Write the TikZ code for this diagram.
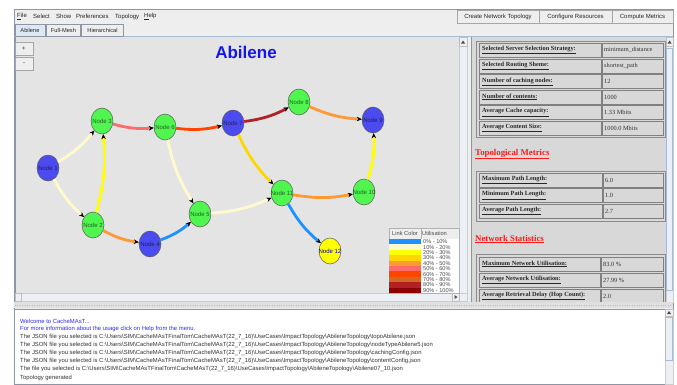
\documentclass[tikz,border=0pt]{standalone}
\usepackage{fontspec}
\setmainfont{Liberation Serif}
\setsansfont{Liberation Sans}
\usetikzlibrary{arrows.meta,shapes.geometric}

\definecolor{winbg}{RGB}{238,238,238}
\definecolor{graphbg}{RGB}{228,228,228}
\definecolor{panelbg}{RGB}{216,216,216}
\definecolor{framegray}{RGB}{140,150,165}
\definecolor{tabline}{RGB}{165,188,212}
\definecolor{tabsel}{RGB}{222,232,242}
\definecolor{scrollbg}{RGB}{236,239,243}
\definecolor{nodegreen}{RGB}{80,245,80}
\definecolor{nodeblue}{RGB}{75,75,240}
\definecolor{nodeyellow}{RGB}{255,255,0}
\definecolor{titleblue}{RGB}{20,20,240}
\definecolor{msgblue}{RGB}{45,45,240}
\definecolor{metricred}{RGB}{255,25,25}
\definecolor{util0}{RGB}{30,144,255}
\definecolor{util1}{RGB}{255,250,205}
\definecolor{util2}{RGB}{255,255,0}
\definecolor{util3}{RGB}{255,215,0}
\definecolor{util4}{RGB}{255,153,51}
\definecolor{util5}{RGB}{255,106,106}
\definecolor{util6}{RGB}{255,69,0}
\definecolor{util7}{RGB}{210,105,30}
\definecolor{util8}{RGB}{178,34,34}
\definecolor{util9}{RGB}{139,0,0}

\newcommand{\nodetxt}[1]{\makebox[0pt]{#1}}
\newcommand{\bsl}{\textbackslash}
\newcommand{\cmpath}{C:\bsl Users\bsl SIM\bsl CacheMAsTFinalTom\bsl CacheMAsT(22\_7\_16)\bsl UseCases\bsl ImpactTopology\bsl AbileneTopology\bsl}

\begin{document}
\begin{tikzpicture}[x=1pt, y=-1pt,
    netnode/.style={ellipse, draw=black!65, line width=0.5pt, minimum width=22pt, minimum height=26pt, inner sep=0pt, font=\sffamily\fontsize{6}{6}\selectfont, text opacity=0.6},
    lnk/.style={line width=2.8pt, bend right=10, -{Stealth[length=5pt, width=4.5pt, color=black, line width=0.4pt]}},
    menutxt/.style={anchor=west, inner sep=0pt, font=\sffamily\fontsize{6}{7}\selectfont, text=black!85},
    btn/.style={draw=black!35, fill=winbg, minimum height=12.5pt, inner sep=0pt, font=\sffamily\fontsize{6}{7}\selectfont, text=black!85},
    tabbox/.style={draw=framegray, fill=winbg, minimum height=12pt, inner sep=0pt, font=\sffamily\fontsize{5.7}{7}\selectfont, text=black!85},
    cellbox/.style={draw=black!50, line width=1pt},
    lbl/.style={anchor=west, inner sep=0pt, font=\bfseries\fontsize{6.3}{7}\selectfont, text=black!85},
    val/.style={anchor=west, inner sep=0pt, font=\fontsize{6.3}{7}\selectfont, text=black!80},
    heading/.style={anchor=west, inner sep=0pt, font=\bfseries\fontsize{8.8}{9}\selectfont, text=metricred},
    legtxt/.style={anchor=west, inner sep=0pt, font=\sffamily\fontsize{5.6}{5}\selectfont, text=black!70},
    logtxt/.style={anchor=west, inner sep=0pt, font=\sffamily\fontsize{5.9}{6}\selectfont, text=black!80},
    scrolltrack/.style={fill=scrollbg, draw=black!20}
  ]
  \useasboundingbox (0,0) rectangle (677,384);
  \fill[white] (0,0) rectangle (677,384);

  % ウィンドウ
  \fill[winbg] (14,9) rectangle (673,384);
  \draw[framegray] (14,9) rectangle (673,384);

  % メニューバー
  \node[menutxt] (mfile) at (17,16.5) {\underline{F}ile};
  \node[menutxt] (msel) at (33,16.5) {Select};
  \node[menutxt] (mshow) at (56,16.5) {Show};
  \node[menutxt] (mpref) at (76,16.5) {Preferences};
  \node[menutxt] (mtopo) at (115,16.5) {Topology};
  \node[menutxt] (mhelp) at (144,16.5) {\underline{H}elp};
  \node[btn, minimum width=82pt] (bcreate) at (498,16.5) {Create Network Topology};
  \node[btn, minimum width=73pt] (bconf) at (575.5,16.5) {Configure Resources};
  \node[btn, minimum width=61pt] (bcomp) at (642.5,16.5) {Compute Metrics};

  % タブ
  \draw[tabline] (14,36) -- (673,36);
  \node[tabbox, fill=tabsel, minimum width=30pt] (tabil) at (30,30) {Abilene};
  \node[tabbox, minimum width=34pt] (tfull) at (63.5,30) {Full-Mesh};
  \node[tabbox, minimum width=42pt] (thier) at (102.5,30) {Hierarchical};

  % グラフのパネル
  \fill[graphbg] (15,37) rectangle (459,293);
  \draw[framegray, line width=1pt] (15,37) -- (15,301);
  \fill[scrolltrack] (459,37) rectangle (467,293);
  \draw[black!25] (459,37) rectangle (467,46);
  \fill[black!70] (461,43.5) -- (465,43.5) -- (463,40.5) -- cycle;
  \fill[scrolltrack] (15,293) rectangle (467,301);
  \draw[black!25] (15,293) rectangle (21,301);
  \draw[black!25] (452,293) rectangle (459,301);
  \fill[black!70] (454.5,295) -- (454.5,299) -- (457.5,297) -- cycle;
  \node[btn, minimum width=18pt, minimum height=13pt] (zin) at (24,48.5) {+};
  \node[btn, minimum width=18pt, minimum height=13pt] (zout) at (24,63.5) {-};
  \node[inner sep=0pt, font=\sffamily\bfseries\fontsize{17}{17}\selectfont, text=titleblue] (title) at (246,52) {Abilene};

  % ノード
  \node[netnode, fill=nodeblue]  (n1)  at (48,168)  {\nodetxt{Node 1}};
  \node[netnode, fill=nodegreen] (n2)  at (93,225)  {\nodetxt{Node 2}};
  \node[netnode, fill=nodegreen] (n3)  at (102,121) {\nodetxt{Node 3}};
  \node[netnode, fill=nodeblue]  (n4)  at (150,244) {\nodetxt{Node 4}};
  \node[netnode, fill=nodegreen] (n5)  at (200,214) {\nodetxt{Node 5}};
  \node[netnode, fill=nodegreen] (n6)  at (165,127) {\nodetxt{Node 6}};
  \node[netnode, fill=nodeblue]  (n7)  at (233,123) {\nodetxt{Node 7}};
  \node[netnode, fill=nodegreen] (n8)  at (299,102) {\nodetxt{Node 8}};
  \node[netnode, fill=nodeblue]  (n9)  at (373,120) {\nodetxt{Node 9}};
  \node[netnode, fill=nodegreen] (n10) at (364,192) {\nodetxt{Node 10}};
  \node[netnode, fill=nodegreen] (n11) at (282,193) {\nodetxt{Node 11}};
  \node[netnode, fill=nodeyellow, text=blue!70!black, text opacity=1] (n12) at (330,251) {\nodetxt{Node 12}};

  % リンク
  \draw[lnk, util1] (n1) to (n3);
  \draw[lnk, util1] (n1) to (n2);
  \draw[lnk, util2] (n2) to (n3);
  \draw[lnk, util4] (n2) to (n4);
  \draw[lnk, util0] (n4) to (n5);
  \draw[lnk, util5] (n3) to (n6);
  \draw[lnk, util6] (n6) to (n7);
  \draw[lnk, util1] (n6) to (n5);
  \draw[lnk, util1] (n5) to (n11);
  \draw[lnk, util8] (n7) to (n8);
  \draw[lnk, util3] (n7) to (n11);
  \draw[lnk, util4] (n8) to (n9);
  \draw[lnk, util2] (n10) to (n9);
  \draw[lnk, util4] (n11) to (n10);
  \draw[lnk, util0] (n11) to (n12);

  % 凡例
  \fill[winbg] (389,228) rectangle (459,239);
  \draw[black!30] (389,228) rectangle (459,293);
  \draw[black!30] (421,228) -- (421,293);
  \begin{scope}
    \clip (389,228) rectangle (420.5,239);
    \node[legtxt, font=\sffamily\fontsize{5.7}{6}\selectfont] (hcol) at (392,233.5) {Link Color};
  \end{scope}
  \node[legtxt, font=\sffamily\fontsize{5.7}{6}\selectfont] (hutil) at (422,233.5) {Utilisation};
  \fill[white] (421,239) rectangle (459,293);
  \fill[util0] (389,239) rectangle (420.5,244.4);
  \fill[util1] (389,244.4) rectangle (420.5,249.8);
  \fill[util2] (389,249.8) rectangle (420.5,255.2);
  \fill[util3] (389,255.2) rectangle (420.5,260.6);
  \fill[util4] (389,260.6) rectangle (420.5,266);
  \fill[util5] (389,266) rectangle (420.5,271.4);
  \fill[util6] (389,271.4) rectangle (420.5,276.8);
  \fill[util7] (389,276.8) rectangle (420.5,282.2);
  \fill[util8] (389,282.2) rectangle (420.5,287.6);
  \fill[util9] (389,287.6) rectangle (420.5,293);
  \node[legtxt] (u0) at (423,241.7) {0\% - 10\%};
  \node[legtxt] (u1) at (423,247.1) {10\% - 20\%};
  \node[legtxt] (u2) at (423,252.5) {20\% - 30\%};
  \node[legtxt] (u3) at (423,257.9) {30\% - 40\%};
  \node[legtxt] (u4) at (423,263.3) {40\% - 50\%};
  \node[legtxt] (u5) at (423,268.7) {50\% - 60\%};
  \node[legtxt] (u6) at (423,274.1) {60\% - 70\%};
  \node[legtxt] (u7) at (423,279.5) {70\% - 80\%};
  \node[legtxt] (u8) at (423,284.9) {80\% - 90\%};
  \node[legtxt] (u9) at (423,290.3) {90\% - 100\%};

  % 右側のパネル
  \fill[panelbg] (471,37) rectangle (666,302);
  \draw[framegray] (471,37) -- (471,302);
  \fill[scrolltrack] (666,37) rectangle (673,302);
  \draw[black!25] (666,37) rectangle (673,46);
  \fill[black!70] (667.5,43.5) -- (671.5,43.5) -- (669.5,40.5) -- cycle;
  \draw[tabline, fill=scrollbg] (666.5,48) rectangle (672.5,290);
  \begin{scope}
    \clip (472,37) rectangle (666,302);
    \draw[black!45] (476,41) rectangle (665,137);
    \draw[cellbox] (479,43) rectangle (601,57);
    \draw[cellbox] (602,43) rectangle (663,57);
    \draw[cellbox] (479,59) rectangle (601,73);
    \draw[cellbox] (602,59) rectangle (663,73);
    \draw[cellbox] (479,74.5) rectangle (601,88.5);
    \draw[cellbox] (602,74.5) rectangle (663,88.5);
    \draw[cellbox] (479,90) rectangle (601,104);
    \draw[cellbox] (602,90) rectangle (663,104);
    \draw[cellbox] (479,105.5) rectangle (601,119.5);
    \draw[cellbox] (602,105.5) rectangle (663,119.5);
    \draw[cellbox] (479,121) rectangle (601,135);
    \draw[cellbox] (602,121) rectangle (663,135);
    \node[lbl] (l1) at (482,50) {\underline{Selected Server Selection Strategy:}};
    \node[val] (v1) at (604,50) {minimum\_distance};
    \node[lbl] (l2) at (482,66) {\underline{Selected Routing Sheme:}};
    \node[val] (v2) at (604,66) {shortest\_path};
    \node[lbl] (l3) at (482,81.5) {\underline{Number of caching nodes:}};
    \node[val] (v3) at (604,81.5) {12};
    \node[lbl] (l4) at (482,97) {\underline{Number of contents:}};
    \node[val] (v4) at (604,97) {1000};
    \node[lbl] (l5) at (482,112.5) {\underline{Average Cache capacity:}};
    \node[val] (v5) at (604,112.5) {1.33 Mbits};
    \node[lbl] (l6) at (482,128) {\underline{Average Content Size:}};
    \node[val] (v6) at (604,128) {1000.0 Mbits};

    \node[heading] (htopo) at (475,154) {\underline{Topological Metrics}};
    \draw[black!45] (476,171) rectangle (665,221);
    \draw[cellbox] (479,173) rectangle (602,187);
    \draw[cellbox] (603,173) rectangle (663,187);
    \draw[cellbox] (479,188.5) rectangle (602,202.5);
    \draw[cellbox] (603,188.5) rectangle (663,202.5);
    \draw[cellbox] (479,204) rectangle (602,218);
    \draw[cellbox] (603,204) rectangle (663,218);
    \node[lbl] (l7) at (482,180) {\underline{Maximum Path Length:}};
    \node[val] (v7) at (605,180) {6.0};
    \node[lbl] (l8) at (482,195.5) {\underline{Minimum Path Length:}};
    \node[val] (v8) at (605,195.5) {1.0};
    \node[lbl] (l9) at (482,211) {\underline{Average Path Length:}};
    \node[val] (v9) at (605,211) {2.7};

    \node[heading] (hnet) at (475,239) {\underline{Network Statistics}};
    \draw[black!45] (476,254) rectangle (665,310);
    \draw[cellbox] (479,257) rectangle (600,271);
    \draw[cellbox] (601,257) rectangle (663,271);
    \draw[cellbox] (479,273) rectangle (600,287);
    \draw[cellbox] (601,273) rectangle (663,287);
    \draw[cellbox] (479,289) rectangle (600,303);
    \draw[cellbox] (601,289) rectangle (663,303);
    \node[lbl] (l10) at (482,264) {\underline{Maximum Network Utilisation:}};
    \node[val] (v10) at (603,264) {83.0 \%};
    \node[lbl] (l11) at (482,280) {\underline{Average Network Utilisation:}};
    \node[val] (v11) at (603,280) {27.99 \%};
    \node[lbl] (l12) at (482,296) {\underline{Average Retrieval Delay (Hop Count):}};
    \node[val] (v12) at (603,296) {2.0};
  \end{scope}

  % 仕切り
  \fill[black!12] (14,302) rectangle (673,308);
  \draw[black!25, dotted] (15,305) -- (672,305);

  % ログの欄
  \fill[white] (14,309) rectangle (665,384);
  \draw[framegray] (14,309) rectangle (665,384);
  \fill[scrolltrack] (665,309) rectangle (673,384);
  \draw[black!25] (665,309) rectangle (673,316);
  \fill[black!70] (667,314) -- (671,314) -- (669,311) -- cycle;
  \draw[tabline, fill=scrollbg] (665.5,317) rectangle (672.5,360);
  \node[logtxt, text=msgblue] (log1) at (20,321) {Welcome to CacheMAsT...};
  \node[logtxt, text=msgblue] (log2) at (20,329) {For more information about the usage click on Help from the menu.};
  \node[logtxt] (log3) at (20,337) {The JSON file you selected is \cmpath topoAbilene.json};
  \node[logtxt] (log4) at (20,345) {The JSON file you selected is \cmpath nodeTypeAbilene5.json};
  \node[logtxt] (log5) at (20,353) {The JSON file you selected is \cmpath cachingConfig.json};
  \node[logtxt] (log6) at (20,361) {The JSON file you selected is \cmpath contentConfig.json};
  \node[logtxt] (log7) at (20,369) {The file you selected is \cmpath Abilene07\_10.json};
  \node[logtxt] (log8) at (20,377.5) {Topology generated};

\end{tikzpicture}
\end{document}
